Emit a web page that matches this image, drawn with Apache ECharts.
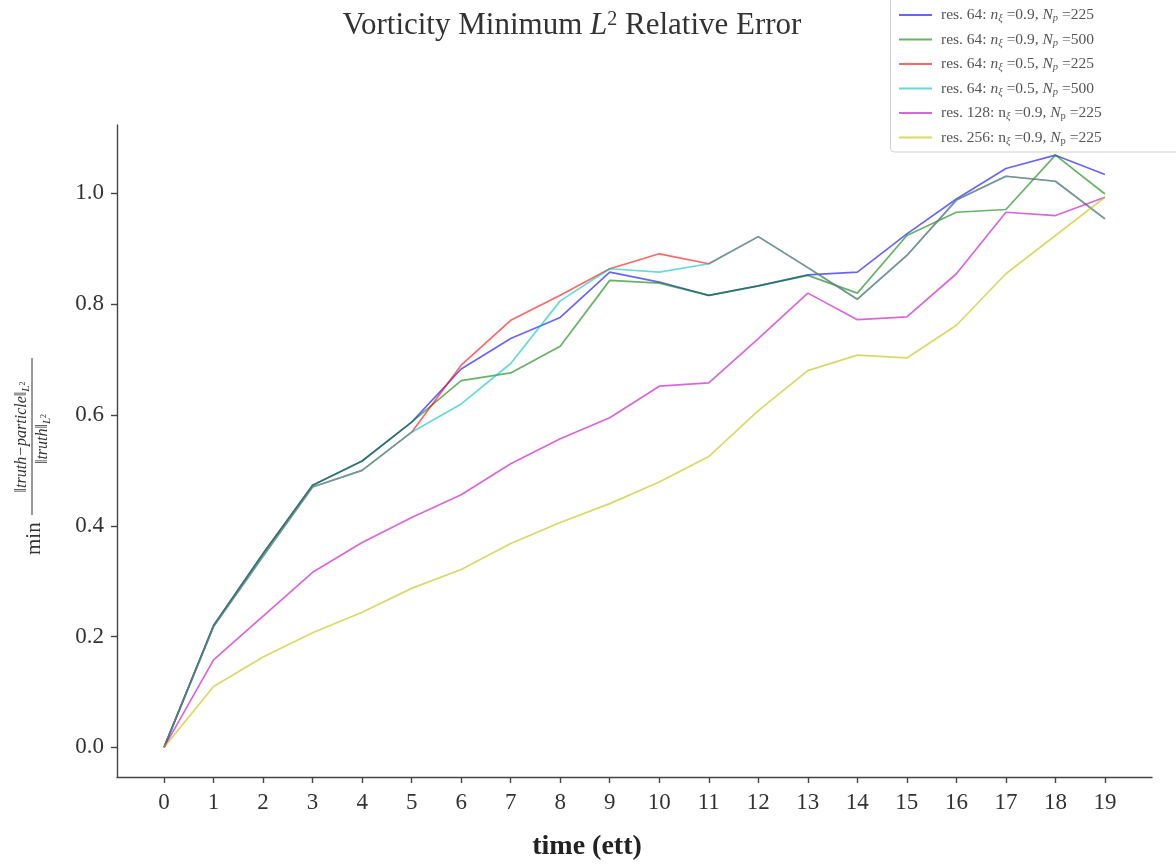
<!DOCTYPE html>
<html>
<head>
<meta charset="utf-8">
<script src="https://cdn.jsdelivr.net/npm/echarts@6/dist/echarts.min.js"></script>
<style>html,body{margin:0;padding:0;background:#fff}#c{width:1176px;height:865px}</style>
</head>
<body>
<div id="c"></div>
<script>
// ---- data ----
const xTicks = [0,1,2,3,4,5,6,7,8,9,10,11,12,13,14,15,16,17,18,19];
const yTicks = [0.0,0.2,0.4,0.6,0.8,1.0];
const res64_09_225 = [0.0,0.220,0.350,0.473,0.517,0.587,0.683,0.738,0.776,0.858,0.840,0.816,0.833,0.853,0.858,0.927,0.990,1.045,1.069,1.034];
const res64_09_500 = [0.0,0.220,0.350,0.473,0.517,0.587,0.662,0.676,0.724,0.843,0.838,0.816,0.833,0.852,0.820,0.924,0.966,0.971,1.069,0.999];
const res64_05_225 = [0.0,0.218,0.345,0.470,0.500,0.569,0.690,0.771,0.816,0.864,0.891,0.873,0.922,0.866,0.809,0.888,0.988,1.031,1.022,0.954];
const res64_05_500 = [0.0,0.218,0.345,0.470,0.500,0.569,0.620,0.693,0.806,0.864,0.858,0.873,0.922,0.866,0.809,0.888,0.988,1.031,1.022,0.954];
const res128_09_225 = [0.0,0.158,0.237,0.316,0.370,0.415,0.456,0.512,0.557,0.595,0.652,0.658,0.738,0.820,0.772,0.777,0.855,0.966,0.960,0.993];
const res256_09_225 = [0.0,0.110,0.163,0.207,0.244,0.287,0.321,0.368,0.406,0.440,0.479,0.525,0.608,0.680,0.708,0.703,0.762,0.855,0.924,0.993];
const seriesNames = ['res. 64: n=0.9, N=225','res. 64: n=0.9, N=500','res. 64: n=0.5, N=225','res. 64: n=0.5, N=500','res. 128: n=0.9, N=225','res. 256: n=0.9, N=225'];
const seriesRes = ['64','64','64','64','128','256'];
const seriesN = ['0.9','0.9','0.5','0.5','0.9','0.9'];
const seriesNp = ['225','500','225','500','225','225'];
const seriesItalic = [true,true,true,true,false,false];
const seriesData = [res64_09_225,res64_09_500,res64_05_225,res64_05_500,res128_09_225,res256_09_225];
const seriesColors = ['rgba(0,0,255,0.6)','rgba(0,128,0,0.6)','rgba(255,0,0,0.6)','rgba(0,191,191,0.6)','rgba(191,0,191,0.6)','rgba(191,191,0,0.6)'];

const SERIF = "'Liberation Serif','DejaVu Serif',serif";
const chart = echarts.init(document.getElementById('c'), null, {renderer:'canvas'});

const LC = '#555';
const FS = 15.5;
const legendRich = {
  p:{fontFamily:SERIF,fontSize:FS,color:LC,padding:[0,0,0,4]},
  r:{fontFamily:SERIF,fontSize:FS,color:LC},
  i:{fontFamily:SERIF,fontSize:FS,fontStyle:'italic',color:LC},
  u:{fontFamily:SERIF,fontSize:FS,color:LC},
  si:{fontFamily:SERIF,fontSize:10.5,fontStyle:'italic',color:LC,padding:[7,0,0,0]},
  su:{fontFamily:SERIF,fontSize:10.5,color:LC,padding:[7,0,0,0]}
};

const series = seriesData.map((d,k)=>({
  name: seriesNames[k],
  type:'line',
  data: d.map((v,i)=>[xTicks[i], v]),
  symbol:'none',
  showSymbol:false,
  lineStyle:{color:seriesColors[k], width:1.7},
  itemStyle:{color:seriesColors[k]},
  emphasis:{disabled:true},
  z: 2+k
}));

chart.setOption({
  animation:false,
  backgroundColor:'#fff',
  grid:{left:117,right:24,top:125,bottom:88,containLabel:false},
  xAxis:{
    type:'value', min:-0.95, max:19.95,
    axisLine:{show:true,onZero:false,lineStyle:{color:'#444',width:1.4}},
    axisTick:{show:true,length:6,lineStyle:{color:'#444',width:1.4},customValues:xTicks},
    axisLabel:{show:true,margin:14,color:'#333',fontSize:23,fontFamily:SERIF,customValues:xTicks,formatter:v=>String(v)},
    splitLine:{show:false}
  },
  yAxis:{
    type:'value', min:-0.0535, max:1.1235,
    axisLine:{show:true,onZero:false,lineStyle:{color:'#444',width:1.4}},
    axisTick:{show:true,length:6,lineStyle:{color:'#444',width:1.4},customValues:yTicks},
    axisLabel:{show:true,margin:13,color:'#333',fontSize:23,fontFamily:SERIF,customValues:yTicks,formatter:v=>v.toFixed(1)},
    splitLine:{show:false}
  },
  legend:{
    show:true, orient:'vertical', left:894, top:2,
    itemWidth:33, itemHeight:2, itemGap:7.5,
    icon:'rect',
    z:20,
    data: seriesNames,
    formatter: function(name){
      const k = seriesNames.indexOf(name);
      const it = seriesItalic[k];
      return '{p|res. '+seriesRes[k]+': }' + (it?'{i|n}':'{u|n}') + '{si|ξ}' + '{r| =' + seriesN[k] + ', }{i|N}' + (it?'{si|p}':'{su|p}') + '{r| =' + seriesNp[k] + '}';
    },
    textStyle:{rich:legendRich, color:LC, fontFamily:SERIF, fontSize:FS}
  },
  graphic:[
    {type:'rect', z:15, shape:{x:890.5,y:-10,width:300,height:162,r:4}, style:{fill:'rgba(255,255,255,0.85)',stroke:'#d0d0d0',lineWidth:1}},
    {type:'text', z:10, x:572, y:26, style:{
      text:'{a|Vorticity Minimum }{i|L}{s|2}{a| Relative Error}',
      align:'center', verticalAlign:'middle',
      rich:{
        a:{fontFamily:SERIF,fontSize:31,fill:'#333',color:'#333'},
        i:{fontFamily:SERIF,fontSize:31,fontStyle:'italic',fill:'#333',color:'#333'},
        s:{fontFamily:SERIF,fontSize:20,fill:'#333',color:'#333',padding:[0,0,13,0]}
      }
    }},
    {type:'text', z:10, x:587, y:847, style:{
      text:'time (ett)', align:'center', verticalAlign:'middle',
      fontFamily:SERIF, fontSize:28, fontWeight:'bold', fill:'#222'
    }},
    {type:'group', x:0, y:557, rotation:Math.PI/2, z:10, children:[
      {type:'text', style:{text:'min', x:2, y:34, align:'left', verticalAlign:'middle', fontFamily:SERIF, fontSize:21, fill:'#333'}},
      {type:'line', shape:{x1:42,y1:32,x2:199,y2:32}, style:{stroke:'#333',lineWidth:1}},
      {type:'text', style:{text:'{i|‖truth−particle‖}{s|L}{ss|2}', x:120, y:22, align:'center', verticalAlign:'middle',
        rich:{i:{fontFamily:SERIF,fontSize:16,fontStyle:'italic',fill:'#333',color:'#333'},
              s:{fontFamily:SERIF,fontSize:11,fontStyle:'italic',fill:'#333',color:'#333',padding:[8,0,0,0]},
              ss:{fontFamily:SERIF,fontSize:8,fill:'#333',color:'#333',padding:[2,0,0,0]}}}},
      {type:'text', style:{text:'{i|‖truth‖}{s|L}{ss|2}', x:118, y:43, align:'center', verticalAlign:'middle',
        rich:{i:{fontFamily:SERIF,fontSize:16,fontStyle:'italic',fill:'#333',color:'#333'},
              s:{fontFamily:SERIF,fontSize:11,fontStyle:'italic',fill:'#333',color:'#333',padding:[8,0,0,0]},
              ss:{fontFamily:SERIF,fontSize:8,fill:'#333',color:'#333',padding:[2,0,0,0]}}}}
    ]}
  ],
  series: series
});
</script>
</body>
</html>
